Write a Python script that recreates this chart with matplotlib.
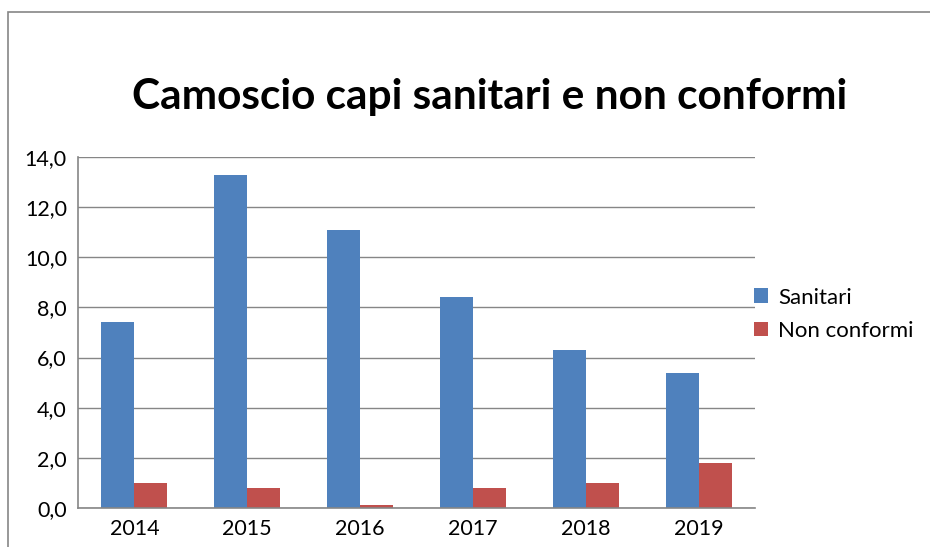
import matplotlib.pyplot as plt
import numpy as np
from matplotlib.patches import Rectangle

# Data
years = ['2014', '2015', '2016', '2017', '2018', '2019']
sanitari = [7.4, 13.3, 11.1, 8.4, 6.3, 5.4]
non_conformi = [1.0, 0.8, 0.1, 0.8, 1.0, 1.8]
y_ticks = [0, 2, 4, 6, 8, 10, 12, 14]

blue = '#4F81BD'
red = '#C0504D'
grid_col = '#868686'
font = ['Lato', 'DejaVu Sans']

fig = plt.figure(figsize=(9.3, 5.47), dpi=100)
W, H = 930, 547

# outer chart frame (extends off the right and bottom edges)
fig.patches.append(Rectangle((8 / W, -0.1), 1.2, 1 - 12 / H + 0.1,
                             transform=fig.transFigure, fill=False,
                             edgecolor=grid_col, linewidth=1.2))

ax = fig.add_axes([78 / W, 1 - 508 / H, (755 - 78) / W, (508 - 157) / H])

x = np.arange(len(years))
w = 0.293
ax.bar(x - w / 2, sanitari, w, color=blue, label='Sanitari')
ax.bar(x + w / 2, non_conformi, w, color=red, label='Non conformi')

ax.set_xlim(-0.5, len(years) - 0.5)
ax.set_ylim(0, 14)
ax.set_yticks(y_ticks)
ax.set_yticklabels([f'{v:.1f}'.replace('.', ',') for v in y_ticks],
                   fontsize=15.5, family=font)
ax.set_xticks(x)
ax.set_xticklabels(years, fontsize=15.5, family=font)
ax.tick_params(length=0)
ax.tick_params(axis='x', pad=8)
ax.tick_params(axis='y', pad=8)

ax.grid(axis='y', color=grid_col, linewidth=1)
ax.set_axisbelow(True)
for side in ['top', 'right']:
    ax.spines[side].set_visible(False)
for side in ['left', 'bottom']:
    ax.spines[side].set_color(grid_col)
    ax.spines[side].set_linewidth(1.2)

fig.text(490 / W, 1 - 97 / H, 'Camoscio capi sanitari e non conformi',
         ha='center', va='center', fontsize=30.5, fontweight='bold', family=font)

leg = ax.legend(loc='upper left', bbox_to_anchor=(0.9985, 0.628), frameon=False,
                prop={'family': font, 'size': 16}, handlelength=0.63,
                handleheight=0.63, handletextpad=0.45, labelspacing=0.6,
                borderpad=0, borderaxespad=0)

fig.savefig('out.png', dpi=100)
